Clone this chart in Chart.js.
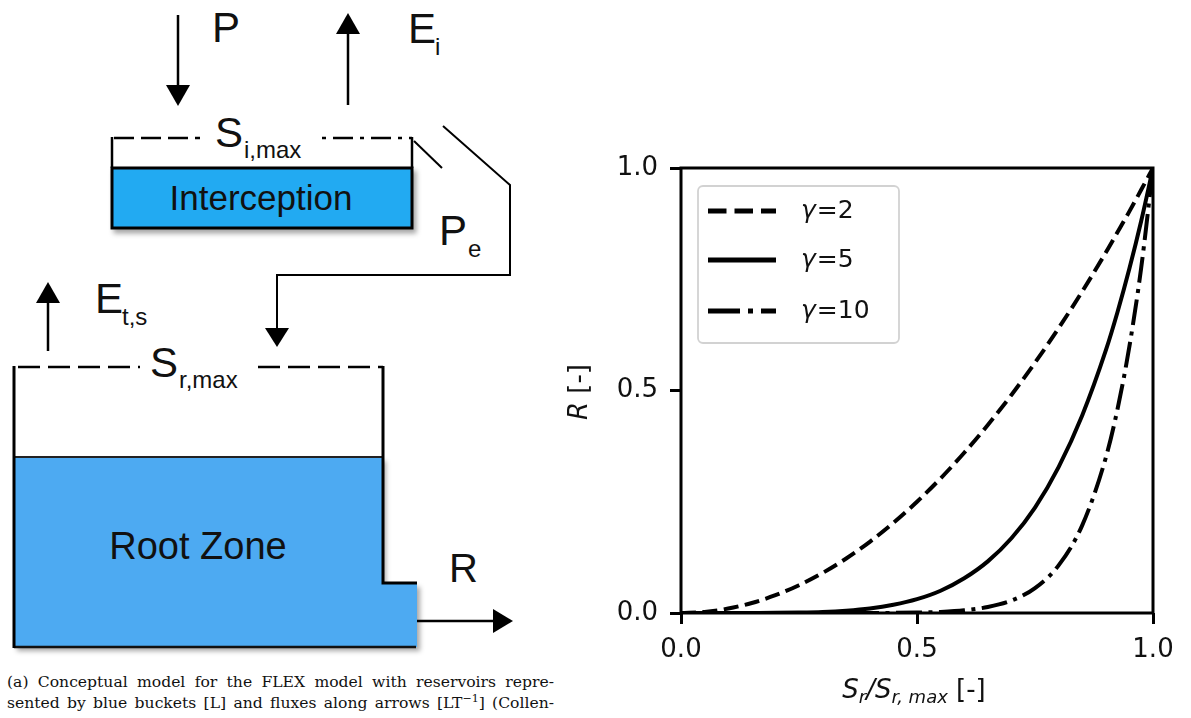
<!DOCTYPE html>
<html>
<head>
<meta charset="utf-8">
<script src="https://cdn.jsdelivr.net/npm/chart.js@4.4.1/dist/chart.umd.min.js"></script>
<style>
  html, body { margin:0; padding:0; background:#fff; width:1191px; height:718px; overflow:hidden; }
  #diagram { position:absolute; left:0; top:0; }
  #chartBox { position:absolute; left:560px; top:140px; width:631px; height:578px; }
  #cap { position:absolute; left:7px; top:672px; width:547px; font-family:'DejaVu Serif','Liberation Serif',serif; font-size:15.6px; line-height:21px; color:#111; }
  #cap div { text-align:justify; text-align-last:justify; white-space:nowrap; }
  #cap sup { font-size:11px; line-height:0; }
</style>
</head>
<body>
<svg id="diagram" width="560" height="660" viewBox="0 0 560 660" xmlns="http://www.w3.org/2000/svg" font-family="'Liberation Sans', Arial, sans-serif">
  <defs>
    <filter id="sh" x="-5%" y="-5%" width="115%" height="125%">
      <feDropShadow dx="3" dy="4" stdDeviation="2.5" flood-color="#000" flood-opacity="0.35"/>
    </filter>
  </defs>
  <!-- P arrow -->
  <line x1="178" y1="15" x2="178" y2="88" stroke="#000" stroke-width="2.5"/>
  <polygon points="166,85 190,85 178,106" fill="#000"/>
  <text x="212" y="42" font-size="42" fill="#111">P</text>
  <!-- Ei arrow -->
  <line x1="348" y1="105" x2="348" y2="32" stroke="#000" stroke-width="2.5"/>
  <polygon points="336,34 360,34 348,13" fill="#000"/>
  <text x="408" y="43" font-size="42" fill="#111">E</text>
  <text x="435" y="55" font-size="24" fill="#111">i</text>
  <!-- Interception bucket -->
  <rect x="112" y="168" width="300" height="60" fill="#24AAF2" stroke="#000" stroke-width="3" filter="url(#sh)"/>
  <line x1="112" y1="137" x2="112" y2="168" stroke="#000" stroke-width="2.5"/>
  <line x1="412" y1="137" x2="412" y2="168" stroke="#000" stroke-width="2.5"/>
  <line x1="114" y1="138" x2="200" y2="138" stroke="#000" stroke-width="2.5" stroke-dasharray="20,7"/>
  <line x1="322" y1="138" x2="412" y2="138" stroke="#000" stroke-width="2.5" stroke-dasharray="4,7,20,7"/>
  <text x="215" y="147" font-size="42" fill="#111">S</text>
  <text x="244" y="158" font-size="24" fill="#111">i,max</text>
  <text x="261" y="210" font-size="35" fill="#111" text-anchor="middle">Interception</text>
  <!-- Pe overflow -->
  <line x1="414" y1="141" x2="442" y2="168" stroke="#000" stroke-width="2"/>
  <polyline points="443,126 510,185 510,275 277,275 277,330" fill="none" stroke="#000" stroke-width="2"/>
  <polygon points="265,328 289,328 277,347" fill="#000"/>
  <text x="439" y="245" font-size="42" fill="#111">P</text>
  <text x="468" y="257" font-size="24" fill="#111">e</text>
  <!-- Et,s arrow -->
  <line x1="48" y1="351" x2="48" y2="300" stroke="#000" stroke-width="2.5"/>
  <polygon points="36,303 60,303 48,282" fill="#000"/>
  <text x="95" y="313" font-size="42" fill="#111">E</text>
  <text x="122" y="325" font-size="24" fill="#111">t,s</text>
  <!-- Root zone bucket -->
  <polygon points="14,457 383,457 383,583 417,583 417,647 14,647" fill="#4EAAF2" filter="url(#sh)"/>
  <line x1="14" y1="647" x2="416" y2="647" stroke="#111" stroke-width="2.5"/>
  <line x1="14" y1="457" x2="383" y2="457" stroke="#222" stroke-width="2"/>
  <line x1="14" y1="366" x2="14" y2="648" stroke="#000" stroke-width="3"/>
  <polyline points="383,366 383,583 417,583" fill="none" stroke="#000" stroke-width="3"/>
  <line x1="18" y1="367" x2="140" y2="367" stroke="#000" stroke-width="2.5" stroke-dasharray="22,8"/>
  <line x1="258" y1="367" x2="383" y2="367" stroke="#000" stroke-width="2.5" stroke-dasharray="22,8"/>
  <text x="150" y="377" font-size="42" fill="#111">S</text>
  <text x="179" y="388" font-size="24" fill="#111">r,max</text>
  <text x="198" y="559" font-size="38" fill="#111" text-anchor="middle">Root Zone</text>
  <!-- R arrow -->
  <line x1="417" y1="621" x2="495" y2="621" stroke="#000" stroke-width="2.5"/>
  <polygon points="493,609 493,633 513,621" fill="#000"/>
  <text x="449" y="582" font-size="40" fill="#111">R</text>
</svg>

<div id="cap">
  <div>(a) Conceptual model for the FLEX model with reservoirs repre-</div>
  <div>sented by blue buckets [L] and fluxes along arrows [LT<sup>−1</sup>] (Collen-</div>
</div>

<div id="chartBox"><canvas id="c" width="631" height="578"></canvas></div>

<script>
// ---- Data ----
const storageRatio = [0, 0.05, 0.1, 0.15, 0.2, 0.25, 0.3, 0.35, 0.4, 0.45, 0.5, 0.55, 0.6, 0.65, 0.7, 0.75, 0.8, 0.85, 0.9, 0.925, 0.95, 0.975, 1.0];
const runoffGamma2  = [0, 0.0025, 0.01, 0.0225, 0.04, 0.0625, 0.09, 0.1225, 0.16, 0.2025, 0.25, 0.3025, 0.36, 0.4225, 0.49, 0.5625, 0.64, 0.7225, 0.81, 0.856, 0.9025, 0.951, 1.0];
const runoffGamma5  = [0, 0, 0, 0.0001, 0.0003, 0.001, 0.0024, 0.0053, 0.0102, 0.0185, 0.031, 0.050, 0.078, 0.116, 0.168, 0.237, 0.328, 0.444, 0.590, 0.677, 0.774, 0.881, 1.0];
const runoffGamma10 = [0, 0, 0, 0, 0, 0, 0, 0, 0.0001, 0.0003, 0.001, 0.0025, 0.006, 0.0135, 0.028, 0.056, 0.107, 0.197, 0.349, 0.459, 0.599, 0.776, 1.0];
const seriesLabels = ['γ=2', 'γ=5', 'γ=10'];
const xTickValues = [0.0, 0.5, 1.0];
const yTickValues = [0.0, 0.5, 1.0];

const toPoints = ys => storageRatio.map((x, i) => ({ x: x, y: ys[i] }));

const FONT = "'DejaVu Sans', sans-serif";
const LW = 4;
const dashPatterns = [[15, 6.5], [], [26, 6.5, 4, 6.5]];
const legendDash = [[18.5, 8], [], [32, 8, 5, 8]];

function mkDataset(label, ys, dash) {
  return {
    label: label, data: toPoints(ys), borderColor: '#000', borderWidth: LW,
    borderDash: dash, borderCapStyle: 'butt', borderJoinStyle: 'round',
    pointRadius: 0, fill: false, cubicInterpolationMode: 'monotone'
  };
}

const framePlugin = {
  id: 'frameAndText',
  afterDatasetsDraw(chart) {
    const ctx = chart.ctx, a = chart.chartArea;
    ctx.save();
    ctx.strokeStyle = '#000'; ctx.lineWidth = 3; ctx.setLineDash([]);
    ctx.strokeRect(a.left, a.top, a.right - a.left, a.bottom - a.top);
    ctx.restore();
  },
  afterDraw(chart) {
    const ctx = chart.ctx, a = chart.chartArea;
    ctx.save();
    ctx.fillStyle = '#111';
    // --- x axis title: S_r/S_{r,max} [-]
    const parts = [
      { t: 'S', f: 'italic 26px ' + FONT, dy: 0 },
      { t: 'r', f: 'italic 18px ' + FONT, dy: 5 },
      { t: '/S', f: 'italic 26px ' + FONT, dy: 0 },
      { t: 'r, max', f: 'italic 18px ' + FONT, dy: 5 },
      { t: ' [-]', f: '26px ' + FONT, dy: 0 }
    ];
    let w = 0;
    parts.forEach(p => { ctx.font = p.f; p.w = ctx.measureText(p.t).width; w += p.w; });
    let x = (a.left + a.right) / 2 - 3 - w / 2;
    const base = 558;
    ctx.textBaseline = 'alphabetic'; ctx.textAlign = 'left';
    parts.forEach(p => { ctx.font = p.f; ctx.fillText(p.t, x, base + p.dy); x += p.w; });
    // --- y axis title: R [-]
    ctx.save();
    ctx.translate(27, 252);
    ctx.rotate(-Math.PI / 2);
    const yp = [{ t: 'R', f: 'italic 26px ' + FONT }, { t: ' [-]', f: '26px ' + FONT }];
    let yw = 0;
    yp.forEach(p => { ctx.font = p.f; p.w = ctx.measureText(p.t).width; yw += p.w; });
    let yx = -yw / 2;
    yp.forEach(p => { ctx.font = p.f; ctx.fillText(p.t, yx, 0); yx += p.w; });
    ctx.restore();
    // --- legend
    const bx = a.left + 17, by = a.top + 18, bw = 201, bh = 157, r = 5;
    ctx.beginPath();
    ctx.moveTo(bx + r, by); ctx.lineTo(bx + bw - r, by); ctx.arcTo(bx + bw, by, bx + bw, by + r, r);
    ctx.lineTo(bx + bw, by + bh - r); ctx.arcTo(bx + bw, by + bh, bx + bw - r, by + bh, r);
    ctx.lineTo(bx + r, by + bh); ctx.arcTo(bx, by + bh, bx, by + bh - r, r);
    ctx.lineTo(bx, by + r); ctx.arcTo(bx, by, bx + r, by, r); ctx.closePath();
    ctx.fillStyle = 'rgba(255,255,255,0.85)'; ctx.fill();
    ctx.strokeStyle = '#d2d2d2'; ctx.lineWidth = 1.8; ctx.stroke();
    const rowsY = [a.top + 43, a.top + 92, a.top + 143];
    chart.data.datasets.forEach((ds, i) => {
      const yy = rowsY[i];
      ctx.beginPath();
      ctx.setLineDash(legendDash[i]);
      ctx.lineCap = 'butt';
      ctx.strokeStyle = '#000'; ctx.lineWidth = 5;
      ctx.moveTo(bx + 10, yy); ctx.lineTo(bx + 78, yy); ctx.stroke();
      ctx.setLineDash([]);
      ctx.fillStyle = '#111'; ctx.textBaseline = 'middle';
      ctx.font = 'italic 25px ' + FONT;
      const g = ds.label.charAt(0), rest = ds.label.slice(1);
      ctx.fillText(g, bx + 103, yy);
      const gw = ctx.measureText(g).width;
      ctx.font = '25px ' + FONT;
      ctx.fillText(rest, bx + 103 + gw + 1, yy);
    });
    ctx.restore();
  }
};

const tickFont = { family: FONT, size: 26 };

new Chart(document.getElementById('c'), {
  type: 'line',
  data: {
    datasets: [
      mkDataset(seriesLabels[0], runoffGamma2, dashPatterns[0]),
      mkDataset(seriesLabels[1], runoffGamma5, dashPatterns[1]),
      mkDataset(seriesLabels[2], runoffGamma10, dashPatterns[2])
    ]
  },
  options: {
    responsive: false, animation: false, devicePixelRatio: 1,
    layout: { padding: { top: 28, right: 38, left: 0, bottom: 0 } },
    plugins: { legend: { display: false }, tooltip: { enabled: false } },
    scales: {
      x: {
        type: 'linear', min: 0, max: 1,
        afterFit: s => { s.height = 105; },
        afterBuildTicks: s => { s.ticks = xTickValues.map(v => ({ value: v })); },
        ticks: { font: tickFont, color: '#111', padding: 11, maxRotation: 0, callback: v => Number(v).toFixed(1) },
        grid: { display: true, drawOnChartArea: false, drawTicks: true, tickLength: 11, tickWidth: 3, tickColor: '#000' },
        border: { display: false }
      },
      y: {
        type: 'linear', min: 0, max: 1,
        afterFit: s => { s.width = 121; },
        afterBuildTicks: s => { s.ticks = yTickValues.map(v => ({ value: v })); },
        ticks: { font: tickFont, color: '#111', padding: 12, callback: v => Number(v).toFixed(1) },
        grid: { display: true, drawOnChartArea: false, drawTicks: true, tickLength: 11, tickWidth: 3, tickColor: '#000' },
        border: { display: false }
      }
    }
  },
  plugins: [framePlugin]
});
</script>
</body>
</html>
